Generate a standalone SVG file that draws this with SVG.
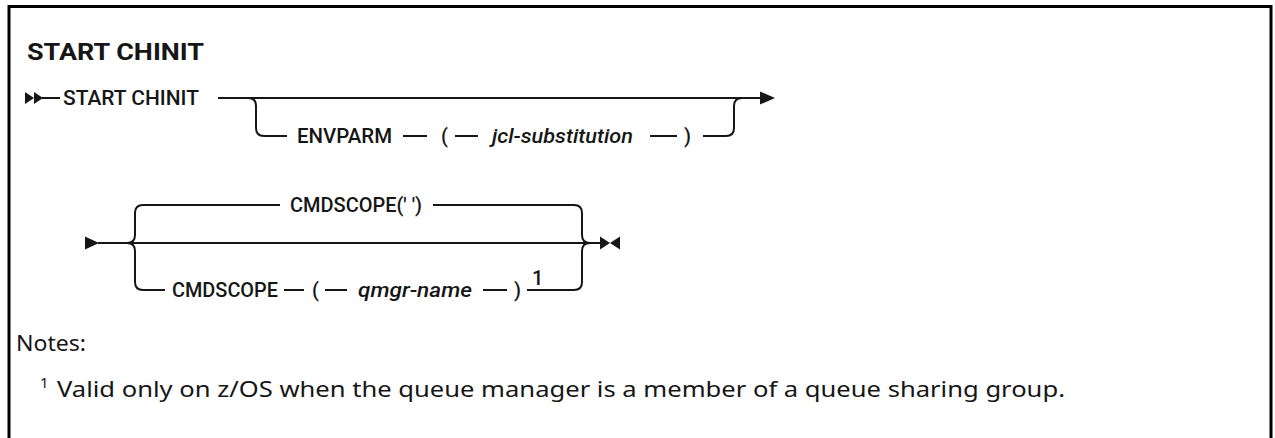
<svg xmlns="http://www.w3.org/2000/svg" width="1275" height="438" viewBox="0 0 1275 438">
<defs>
<style>
.kw{font-family:Roboto,"Liberation Sans",Arial,sans-serif;font-size:20px;font-weight:500;fill:#161616}
.var{font-family:Roboto,"Liberation Sans",Arial,sans-serif;font-size:20px;font-weight:500;font-style:italic;fill:#161616}
.title{font-family:Roboto,"Liberation Sans",Arial,sans-serif;font-size:24px;font-weight:bold;fill:#161616}
.note{font-family:"Noto Sans","Liberation Sans",sans-serif;font-size:21px;fill:#161616}
.ln{fill:none;stroke:#161616;stroke-width:2}
.ah{fill:#161616;stroke:none}
</style>
</defs>
<rect width="1275" height="438" fill="#ffffff"/>
<path d="M9,440 V6.5 H1271 V440" fill="none" stroke="#000" stroke-width="3"/>
<g id="title"><text class="title" x="27" y="60" textLength="177" lengthAdjust="spacingAndGlyphs">START CHINIT</text></g>
<g id="connectors">
<polygon class="ah" points="25,92 34,98 25,104"/>
<polygon class="ah" points="34,92 43,98 34,104"/>
<line class="ln" x1="42" y1="98" x2="60" y2="98"/>
<line class="ln" x1="218" y1="98" x2="762" y2="98"/>
<polygon class="ah" points="760,91.5 775,98 760,104.5"/>
<path class="ln" d="M248,98 Q256,98 256,106 V128 Q256,136 264,136 H287"/>
<line class="ln" x1="403" y1="136" x2="427" y2="136"/>
<line class="ln" x1="455" y1="136" x2="478" y2="136"/>
<line class="ln" x1="650" y1="136" x2="677" y2="136"/>
<path class="ln" d="M703,136 H726 Q734,136 734,128 V106 Q734,98 742,98"/>
<polygon class="ah" points="85,236.5 99,243 85,249.5"/>
<line class="ln" x1="98" y1="243" x2="602" y2="243"/>
<path class="ln" d="M127,243 Q135,243 135,235 V213 Q135,205 143,205 H280"/>
<path class="ln" d="M433,205 H574 Q582,205 582,213 V235 Q582,243 590,243"/>
<path class="ln" d="M127,243 Q135,243 135,251 V282 Q135,290 143,290 H165"/>
<line class="ln" x1="284" y1="290" x2="304" y2="290"/>
<line class="ln" x1="325" y1="290" x2="347" y2="290"/>
<line class="ln" x1="483" y1="290" x2="507" y2="290"/>
<path class="ln" d="M527,290 H574 Q582,290 582,282 V251 Q582,243 590,243"/>
<polygon class="ah" points="600,236.5 610,243 600,249.5"/>
<polygon class="ah" points="620,236.5 610,243 620,249.5"/>
</g>
<g id="start-chinit"><text class="kw" x="63" y="105" textLength="136" lengthAdjust="spacingAndGlyphs">START CHINIT</text></g>
<g id="envparm"><text class="kw" x="297" y="143" textLength="95" lengthAdjust="spacingAndGlyphs">ENVPARM</text></g>
<g id="envparm-open"><text class="kw" x="441" y="143">(</text></g>
<g id="jcl-substitution"><text class="var" x="492" y="143" textLength="141" lengthAdjust="spacingAndGlyphs">jcl-substitution</text></g>
<g id="envparm-close"><text class="kw" x="684" y="143">)</text></g>
<g id="cmdscope-default"><text class="kw" x="290" y="212" textLength="132" lengthAdjust="spacingAndGlyphs">CMDSCOPE(' ')</text></g>
<g id="cmdscope"><text class="kw" x="172" y="297" textLength="106" lengthAdjust="spacingAndGlyphs">CMDSCOPE</text></g>
<g id="cmdscope-open"><text class="kw" x="312" y="297">(</text></g>
<g id="qmgr-name"><text class="var" x="358" y="297" textLength="114" lengthAdjust="spacingAndGlyphs">qmgr-name</text></g>
<g id="cmdscope-close"><text class="kw" x="514" y="297">)</text></g>
<g id="footnote-ref"><text class="kw" x="532" y="285">1</text></g>
<g id="notes">
<text class="note" x="16" y="351" textLength="70" lengthAdjust="spacingAndGlyphs">Notes:</text>
<text class="note" x="40" y="388" style="font-size:15px">1</text>
<text class="note" x="57" y="397" textLength="1008" lengthAdjust="spacingAndGlyphs">Valid only on z/OS when the queue manager is a member of a queue sharing group.</text>
</g>
</svg>
